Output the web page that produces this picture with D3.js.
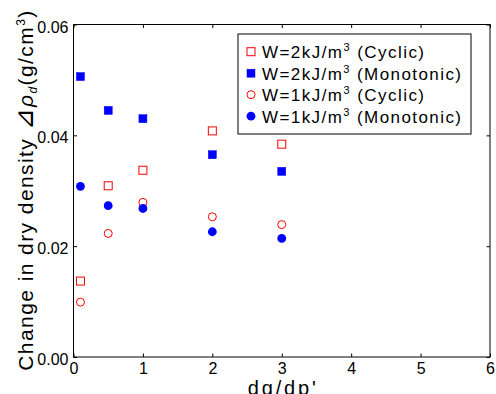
<!DOCTYPE html>
<html>
<head>
<meta charset="utf-8">
<script src="https://cdn.jsdelivr.net/npm/d3@7"></script>
<style>
  body { margin: 0; background: #fff; }
  svg { display: block; font-family: "Liberation Sans", Arial, sans-serif; }
</style>
</head>
<body>
<svg id="canvas" width="496" height="394"></svg>
<script>
// ---------------- data ----------------
let ratios = [0.1, 0.5, 1, 2, 3]
let cyclic2 = [0.0137, 0.0309, 0.0337, 0.0408, 0.0384]
let monotonic2 = [0.0506, 0.0445, 0.0430, 0.0365, 0.0335]
let cyclic1 = [0.0099, 0.0223, 0.0279, 0.0253, 0.0239]
let monotonic1 = [0.0308, 0.0273, 0.0268, 0.0226, 0.0214]

let xTicks = [0, 1, 2, 3, 4, 5, 6]
let yTicks = [0, 0.02, 0.04, 0.06]

let seriesNames = ['2', '2', '1', '1']
let seriesKinds = ['Cyclic', 'Monotonic', 'Cyclic', 'Monotonic']

let series = [
  {values: cyclic2, shape: 'square', filled: false},
  {values: monotonic2, shape: 'square', filled: true},
  {values: cyclic1, shape: 'circle', filled: false},
  {values: monotonic1, shape: 'circle', filled: true}
]

// ---------------- layout ----------------
let canvas = d3.select('#canvas')
let plotLeft = 73.5, plotRight = 490, plotTop = 24.5, plotBottom = 357
let tickLen = 3.5

let xScale = d3.scaleLinear().domain([0, 6]).range([plotLeft, plotRight])
let yScale = d3.scaleLinear().domain([0, 0.06]).range([plotBottom, plotTop])

// box
canvas.append('rect')
  .attr('x', plotLeft).attr('y', plotTop)
  .attr('width', plotRight - plotLeft).attr('height', plotBottom - plotTop)
  .attr('fill', 'none').attr('stroke', '#000').attr('stroke-width', 1)

// axes, ticks drawn inward like matlab
let xAxis = canvas.append('g').attr('transform', `translate(0,${plotBottom})`)
  .call(d3.axisBottom(xScale).tickValues(xTicks).tickSizeInner(-tickLen).tickSizeOuter(0).tickPadding(6).tickFormat(d3.format('d')))
let xAxisTop = canvas.append('g').attr('transform', `translate(0,${plotTop})`)
  .call(d3.axisTop(xScale).tickValues(xTicks).tickSizeInner(-tickLen).tickSizeOuter(0).tickFormat(''))
let yAxis = canvas.append('g').attr('transform', `translate(${plotLeft},0)`)
  .call(d3.axisLeft(yScale).tickValues(yTicks).tickSizeInner(-tickLen).tickSizeOuter(0).tickPadding(5).tickFormat(d3.format('.2f')))
let yAxisRight = canvas.append('g').attr('transform', `translate(${plotRight},0)`)
  .call(d3.axisRight(yScale).tickValues(yTicks).tickSizeInner(-tickLen).tickSizeOuter(0).tickFormat(''))

canvas.selectAll('.domain').remove()
canvas.selectAll('.tick line').attr('stroke', '#000')
canvas.selectAll('.tick text')
  .attr('font-family', '"Liberation Sans", Arial, sans-serif')
  .attr('font-size', 16)
  .attr('fill', '#000')
yAxis.selectAll('.tick text').attr('dy', '0.47em')
xAxis.selectAll('.tick text').attr('dy', '0.71em')

// axis titles
canvas.append('text')
  .attr('x', (plotLeft + plotRight) / 2).attr('y', 395)
  .attr('text-anchor', 'middle')
  .attr('font-size', 20)
  .attr('textLength', 68)
  .text("dg/dp'")

let yTitle = canvas.append('text')
  .attr('transform', `translate(33,${(plotTop + plotBottom) / 2}) rotate(-90)`)
  .attr('text-anchor', 'middle')
  .attr('font-size', 21)
  .attr('textLength', 360)
yTitle.append('tspan').text('Change in dry density ')
yTitle.append('tspan').attr('font-size', 26).text('⊿')
yTitle.append('tspan').attr('font-style', 'italic').text('ρ')
yTitle.append('tspan').attr('font-style', 'italic').attr('font-size', 12).attr('dy', 4).text('d')
yTitle.append('tspan').attr('dy', -4).text('(g/cm')
yTitle.append('tspan').attr('font-size', 12).attr('dy', -8).text('3')
yTitle.append('tspan').attr('dy', 8).text(')')

// markers
let drawMarker = (sel, s) => {
  let color = s.filled ? '#0000ff' : '#ff0000'
  if (s.shape === 'square') {
    sel.append('rect')
      .attr('x', -4).attr('y', -4).attr('width', 8).attr('height', 8)
      .attr('fill', s.filled ? color : 'none')
      .attr('stroke', color).attr('stroke-width', s.filled ? 0.5 : 1)
  } else {
    sel.append('circle')
      .attr('r', s.filled ? 4.4 : 4)
      .attr('fill', s.filled ? color : 'none')
      .attr('stroke', color).attr('stroke-width', s.filled ? 0 : 1)
  }
}

series.forEach(s => {
  canvas.append('g').selectAll('g')
    .data(s.values)
    .enter()
    .append('g')
    .attr('transform', (d, i) => `translate(${xScale(ratios[i])},${yScale(d)})`)
    .each(function () { drawMarker(d3.select(this), s) })
})

// legend
let legend = canvas.append('g')
legend.append('rect')
  .attr('x', 238).attr('y', 34).attr('width', 233).attr('height', 100)
  .attr('fill', '#fff').attr('stroke', '#000').attr('stroke-width', 1)

series.forEach((s, i) => {
  let cy = 51.7 + i * 21.5
  let row = legend.append('g')
  drawMarker(row.append('g').attr('transform', `translate(251,${cy})`), s)
  let t = row.append('text')
    .attr('x', 262).attr('y', cy + 6.3)
    .attr('font-size', 17)
    .attr('textLength', seriesKinds[i] === 'Cyclic' ? 162 : 199)
  t.append('tspan').text('W=' + seriesNames[i] + 'kJ/m')
  t.append('tspan').attr('font-size', 11).attr('dy', -7).text('3')
  t.append('tspan').attr('dy', 7).text(' (' + seriesKinds[i] + ')')
})
</script>
</body>
</html>
